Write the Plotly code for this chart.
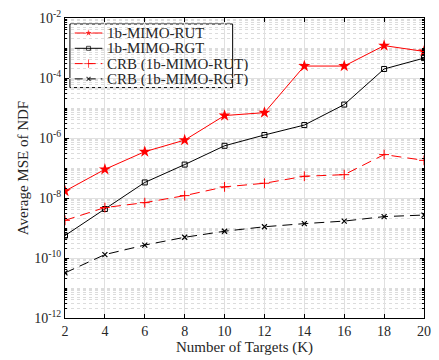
import plotly.graph_objects as go

K = [2, 4, 6, 8, 10, 12, 14, 16, 18, 20]
mse_rut = [1.7e-8, 9e-8, 3.5e-7, 8.5e-7, 5.6e-6, 7e-6, 2.5e-4, 2.5e-4, 1.2e-3, 7.7e-4]
mse_rgt = [5.6e-10, 4.3e-9, 3.3e-8, 1.3e-7, 5.5e-7, 1.26e-6, 2.7e-6, 1.3e-5, 2e-4, 4.6e-4]
crb_rut = [1.8e-9, 4.8e-9, 7e-9, 1.2e-8, 2.35e-8, 3.1e-8, 5.3e-8, 6e-8, 2.8e-7, 1.8e-7]
crb_rgt = [3.2e-11, 1.3e-10, 2.7e-10, 4.9e-10, 7.8e-10, 1.1e-9, 1.4e-9, 1.7e-9, 2.4e-9, 2.7e-9]

names = ["1b-MIMO-RUT", "1b-MIMO-RGT", "CRB (1b-MIMO-RUT)", "CRB (1b-MIMO-RGT)"]
y_exps = [-12, -10, -8, -6, -4, -2]
y_ticks = [10.0 ** e for e in y_exps]
y_ticktext = ["10<sup>%d</sup>" % e for e in y_exps]
minor_vals = [m * 10.0 ** e for e in range(-12, -2) for m in range(1, 10) if not (m == 1 and e % 2 == 0)]

font = "Liberation Serif"
tc = "#262626"
styles = [
    dict(line=dict(color="red", width=1), marker=dict(symbol="star", size=9, color="red")),
    dict(line=dict(color="black", width=1),
         marker=dict(symbol="square-open", size=5, color="black", line=dict(width=1))),
    dict(line=dict(color="red", width=1, dash="10px,6px"),
         marker=dict(symbol="cross-thin-open", size=7, color="red", line=dict(width=1, color="red"))),
    dict(line=dict(color="black", width=1, dash="10px,6px"),
         marker=dict(symbol="x-thin-open", size=5, color="black", line=dict(width=1.2, color="black"))),
]
series = [mse_rut, mse_rgt, crb_rut, crb_rgt]

fig = go.Figure()
for nm, ys, st in zip(names, series, styles):
    fig.add_trace(go.Scatter(x=K, y=ys, name=nm, mode="lines+markers", showlegend=False, **st))

# custom legend (MATLAB-style compact box)
leg_x0, leg_x1, leg_top, leg_bot = 0.0137, 0.467, 0.980, 0.768
row_y = [0.950, 0.899, 0.848, 0.797]
samp_x = [0.027, 0.0656, 0.104]
fig.add_shape(type="rect", xref="x domain", yref="y domain", x0=leg_x0, x1=leg_x1, y0=leg_bot, y1=leg_top,
              line=dict(color="black", width=1), fillcolor="white", layer="below")
for nm, ry, st in zip(names, row_y, styles):
    m = dict(st["marker"])
    m["size"] = [0, m["size"] - (2 if m["symbol"] == "star" else 1), 0]
    leg_line = dict(st["line"])
    leg_line["dash"] = "8px,5px" if "dash" in leg_line else "solid"
    fig.add_trace(go.Scatter(x=samp_x, y=[ry] * 3, xaxis="x2", yaxis="y2", mode="lines+markers",
                             line=leg_line, marker=m, showlegend=False, hoverinfo="skip"))
    fig.add_annotation(x=0.115, y=ry, xref="x domain", yref="y domain", text=nm, showarrow=False,
                       xanchor="left", yanchor="middle", height=14, valign="middle", borderpad=0,
                       font=dict(family=font, size=15, color=tc))

axis_common = dict(showline=True, linecolor="black", linewidth=1, mirror="ticks",
                   ticks="inside", ticklen=4, tickcolor="black",
                   gridcolor="#e0e0e0", gridwidth=1, zeroline=False,
                   tickfont=dict(family=font, size=14, color=tc))

fig.update_xaxes(range=[2, 20], tickvals=K,
                 title=dict(text="Number of Targets (K)", font=dict(family=font, size=15, color=tc), standoff=3),
                 **axis_common)
fig.update_yaxes(type="log", range=[-12, -2], tickvals=y_ticks, ticktext=y_ticktext,
                 title=dict(text="Average MSE of NDF", font=dict(family=font, size=15, color=tc), standoff=1),
                 minor=dict(tickvals=minor_vals, showgrid=True, gridcolor="#dcdcdc", griddash="dot",
                            ticks="inside", ticklen=2, tickcolor="black"),
                 **axis_common)

fig.update_layout(width=439, height=360, margin=dict(l=65, r=8, t=13, b=41),
                  plot_bgcolor="white", paper_bgcolor="white",
                  font=dict(family=font, size=14, color=tc),
                  showlegend=False,
                  xaxis2=dict(overlaying="x", range=[0, 1], visible=False, fixedrange=True),
                  yaxis2=dict(overlaying="y", range=[0, 1], visible=False, fixedrange=True))
fig.write_html("out.html", config={"displayModeBar": False})
with open("out.html", "r", encoding="utf-8") as f:
    html = f.read()
html = html.replace("<head>", "<head><style>html,body{margin:0;padding:0;overflow:hidden;}</style>", 1)
with open("out.html", "w", encoding="utf-8") as f:
    f.write(html)
